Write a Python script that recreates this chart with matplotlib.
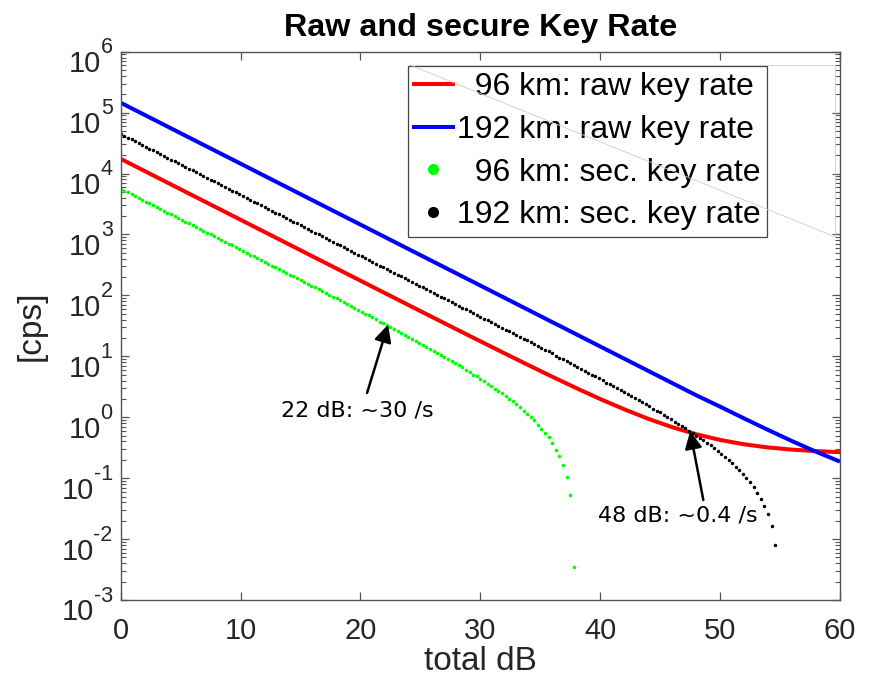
import numpy as np
import matplotlib
matplotlib.use("Agg")
import matplotlib.pyplot as plt
from matplotlib.lines import Line2D

plt.rcParams['font.family'] = ['Liberation Sans', 'DejaVu Sans']
plt.rcParams['axes.unicode_minus'] = False

# solid lines, sampled every 2 dB
db_line = [0, 2, 4, 6, 8, 10, 12, 14, 16, 18, 20, 22, 24, 26, 28, 30,
           32, 34, 36, 38, 40, 42, 44, 46, 48, 50, 52, 54, 56, 58, 60]
raw_96 = [17400, 10979, 6925, 4370, 2758, 1740, 1098, 693, 437, 276, 174.3, 110.0,
          69.5, 43.9, 27.8, 17.65, 11.23, 7.18, 4.62, 3.01, 1.99, 1.35, 0.943,
          0.687, 0.526, 0.424, 0.36, 0.319, 0.294, 0.278, 0.267]
raw_192 = [145000, 91500, 57700, 36400, 22980, 14500, 9150, 5770, 3640, 2298, 1450,
           915, 577, 364, 229.8, 145, 91.5, 57.7, 36.4, 22.98, 14.5, 9.15, 5.77,
           3.64, 2.30, 1.492, 0.957, 0.619, 0.406, 0.272, 0.187]

# secure key rate dots, one every 0.3 dB starting at 0 dB (log10 of cps)
dot_step = 0.3
sec_96_log = [
    3.75, 3.72, 3.69, 3.66, 3.63, 3.60, 3.57, 3.54, 3.51, 3.48,
    3.45, 3.42, 3.39, 3.36, 3.33, 3.30, 3.27, 3.24, 3.21, 3.18,
    3.15, 3.12, 3.09, 3.06, 3.03, 3.00, 2.97, 2.94, 2.91, 2.88,
    2.85, 2.82, 2.79, 2.76, 2.73, 2.70, 2.67, 2.64, 2.61, 2.58,
    2.55, 2.52, 2.49, 2.46, 2.43, 2.40, 2.37, 2.34, 2.31, 2.28,
    2.25, 2.22, 2.19, 2.16, 2.13, 2.10, 2.07, 2.04, 2.01, 1.98,
    1.95, 1.92, 1.89, 1.86, 1.82, 1.79, 1.76, 1.73, 1.70, 1.67,
    1.64, 1.61, 1.57, 1.54, 1.51, 1.48, 1.45, 1.42, 1.38, 1.35,
    1.32, 1.29, 1.25, 1.22, 1.19, 1.16, 1.12, 1.09, 1.06, 1.02,
    0.99, 0.95, 0.92, 0.89, 0.85, 0.82, 0.78, 0.74, 0.70, 0.67,
    0.63, 0.59, 0.55, 0.51, 0.47, 0.43, 0.39, 0.35, 0.30, 0.26,
    0.21, 0.16, 0.11, 0.06, 0.00, -0.05, -0.12, -0.19, -0.26, -0.33,
    -0.43, -0.53, -0.64, -0.78, -0.98, -1.28, -2.46]
sec_192_log = [
    4.65, 4.62, 4.59, 4.56, 4.53, 4.50, 4.47, 4.44, 4.41, 4.38,
    4.35, 4.32, 4.29, 4.26, 4.23, 4.20, 4.17, 4.14, 4.11, 4.08,
    4.05, 4.02, 3.99, 3.96, 3.93, 3.90, 3.87, 3.84, 3.81, 3.78,
    3.75, 3.72, 3.69, 3.66, 3.63, 3.60, 3.57, 3.54, 3.51, 3.48,
    3.45, 3.42, 3.39, 3.36, 3.33, 3.30, 3.27, 3.24, 3.21, 3.18,
    3.15, 3.12, 3.09, 3.06, 3.03, 3.00, 2.97, 2.94, 2.91, 2.88,
    2.85, 2.82, 2.79, 2.76, 2.73, 2.70, 2.67, 2.64, 2.61, 2.58,
    2.55, 2.52, 2.49, 2.46, 2.43, 2.40, 2.37, 2.34, 2.31, 2.28,
    2.25, 2.22, 2.19, 2.16, 2.13, 2.10, 2.07, 2.04, 2.01, 1.98,
    1.95, 1.92, 1.89, 1.86, 1.83, 1.80, 1.77, 1.74, 1.71, 1.68,
    1.65, 1.62, 1.59, 1.56, 1.53, 1.50, 1.47, 1.44, 1.41, 1.38,
    1.35, 1.32, 1.29, 1.26, 1.23, 1.20, 1.17, 1.14, 1.11, 1.08,
    1.05, 1.01, 0.98, 0.95, 0.92, 0.89, 0.86, 0.83, 0.80, 0.76,
    0.73, 0.70, 0.67, 0.64, 0.61, 0.57, 0.54, 0.51, 0.48, 0.44,
    0.41, 0.38, 0.35, 0.31, 0.28, 0.25, 0.21, 0.18, 0.14, 0.11,
    0.08, 0.04, 0.01, -0.03, -0.07, -0.11, -0.14, -0.18, -0.22, -0.26,
    -0.30, -0.34, -0.38, -0.42, -0.46, -0.51, -0.55, -0.60, -0.65, -0.70,
    -0.75, -0.81, -0.86, -0.93, -1.00, -1.07, -1.14, -1.24, -1.34, -1.45,
    -1.59, -1.79, -2.09]

labels = ['  96 km: raw key rate', '192 km: raw key rate',
          '  96 km: sec. key rate', '192 km: sec. key rate']
y_exponents = [-3, -2, -1, 0, 1, 2, 3, 4, 5, 6]

fig = plt.figure(figsize=(8.71, 6.79), dpi=100)
ax = fig.add_axes([0.1386, 0.1163, 0.8258, 0.8076])

ax.plot(db_line, raw_96, color='#ff0000', lw=2.9, solid_capstyle='butt')
ax.plot(db_line, raw_192, color='#0000ff', lw=2.9, solid_capstyle='butt')
x96 = np.arange(len(sec_96_log)) * dot_step
x192 = np.arange(len(sec_192_log)) * dot_step
ax.plot(x96, 10 ** np.array(sec_96_log), ls='none', marker='o', ms=2.6, mew=0, color='#00ff00')
ax.plot(x192, 10 ** np.array(sec_192_log), ls='none', marker='o', ms=2.5, mew=0, color='black')

ax.set_yscale('log')
ax.set_xlim(0, 60)
ax.set_ylim(1e-3, 1e6)
ax.set_xticks([0, 10, 20, 30, 40, 50, 60])
ax.set_yticks([10.0 ** k for k in y_exponents])

for s in ax.spines.values():
    s.set_color('#555555')
    s.set_linewidth(1.0)
ax.tick_params(which='both', direction='in', top=True, right=True, colors='#555555',
               labelcolor='#262626', labelsize=21)
ax.tick_params(which='major', length=6, width=0.9)
ax.tick_params(which='minor', length=3.5, width=0.8)
ax.tick_params(axis='x', pad=12)
ax.tick_params(axis='y', labelleft=False)

# MATLAB-like "10^k" labels: big base, raised exponent with plain hyphen
for k in y_exponents:
    e = ax.annotate(str(k), xy=(0, 10.0 ** k), xycoords=('axes fraction', 'data'),
                    xytext=(-5.8, -1.2), textcoords='offset points', ha='right',
                    va='baseline', fontsize=15.5, color='#262626', annotation_clip=False)
    ax.annotate('10', xy=(0, 0), xycoords=e, xytext=(0.3, -9.9), textcoords='offset points',
                ha='right', va='baseline', fontsize=21, color='#262626', annotation_clip=False)

ax.set_title('Raw and secure Key Rate', fontsize=23.2, fontweight='bold', pad=11)
ax.set_xlabel('total dB', fontsize=24, color='#262626', labelpad=1)
ax.set_ylabel('[cps]', fontsize=24, color='#262626')
ax.yaxis.set_label_coords(-0.1025, 0.5)

handles = [Line2D([], [], color='#ff0000', lw=2.9),
           Line2D([], [], color='#0000ff', lw=2.9),
           Line2D([], [], ls='none', marker='o', ms=8, mew=0, color='#00ff00'),
           Line2D([], [], ls='none', marker='o', ms=8, mew=0, color='black')]
leg = ax.legend(handles, labels, loc='upper right', bbox_to_anchor=(0.899, 0.9745),
                fontsize=23, frameon=True, fancybox=False, framealpha=1,
                edgecolor='#444444', borderpad=0.2, handlelength=1.2,
                handletextpad=0.15, labelspacing=0.4, borderaxespad=0)
leg.get_frame().set_linewidth(0.9)

# faint export artefact around the legend
ax.plot([0.402, 0.993], [0.9757, 0.9757], transform=ax.transAxes, color='#cccccc', lw=0.6, zorder=6)
ax.plot([0.993, 0.993], [0.9757, 0.6626], transform=ax.transAxes, color='#cccccc', lw=0.6, zorder=6)
ax.plot([0.402, 0.993], [0.9757, 0.6626], transform=ax.transAxes, color='#cccccc', lw=0.6, zorder=6)

arrow = dict(arrowstyle='-|>', color='black', lw=1.8, mutation_scale=26, shrinkA=0, shrinkB=0)
ax.annotate('', xy=(22.3, 33.1), xytext=(20.55, 2.51), arrowprops=arrow)
ax.text(13.35, 1.04, '22 dB: ~30 /s', fontsize=16, family='DejaVu Sans', ha='left', va='baseline')
ax.annotate('', xy=(47.5, 0.589), xytext=(48.6, 0.0437), arrowprops=arrow)
ax.text(39.84, 0.0197, '48 dB: ~0.4 /s', fontsize=16, family='DejaVu Sans', ha='left', va='baseline')

fig.savefig('out.png', dpi=100)
